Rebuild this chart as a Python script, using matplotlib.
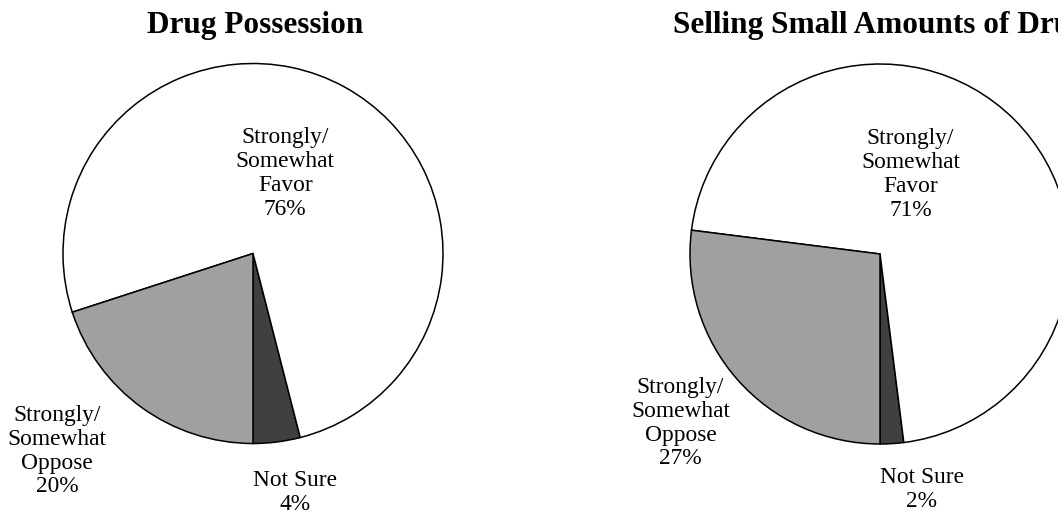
import matplotlib.pyplot as plt

# survey answers, wedges drawn counter-clockwise starting straight down
categories = ['Not Sure', 'Strongly/\nSomewhat\nFavor', 'Strongly/\nSomewhat\nOppose']
possession = [4, 76, 20]
selling = [2, 71, 27]
titles = ['Drug Possession', 'Selling Small Amounts of Drugs']

colors = ['#404040', '#ffffff', '#a0a0a0']
serif = 'Liberation Serif'

# label anchor points in pie units (radius = 1)
label_pos_left = [(0.22, -1.26), (0.17, 0.42), (-1.03, -1.04)]
label_pos_right = [(0.22, -1.24), (0.16, 0.42), (-1.05, -0.89)]

W, H = 1058, 516
fig = plt.figure(figsize=(W / 100, H / 100), dpi=100)


def draw_pie(cx, cy, r, values, title, title_x, label_pos):
    ax = fig.add_axes([(cx - r) / W, (H - cy - r) / H, 2 * r / W, 2 * r / H])
    ax.pie(values, colors=colors, startangle=270, counterclock=True,
           wedgeprops=dict(edgecolor='black', linewidth=1.1))
    ax.set_xlim(-1, 1)
    ax.set_ylim(-1, 1)
    ax.set_aspect('equal')
    ax.axis('off')
    for cat, val, (x, y) in zip(categories, values, label_pos):
        ax.text(x, y, f'{cat}\n{val}%', ha='center', va='center',
                family=serif, fontsize=16.8, linespacing=1.18, clip_on=False)
    fig.text(title_x / W, 1 - 25 / H, title, ha='center', va='center',
             family=serif, fontsize=22.5, fontweight='bold')


draw_pie(253, 253.5, 190, possession, titles[0], 255, label_pos_left)
draw_pie(880, 254, 190, selling, titles[1], 886, label_pos_right)

fig.savefig('out.png', dpi=100)
